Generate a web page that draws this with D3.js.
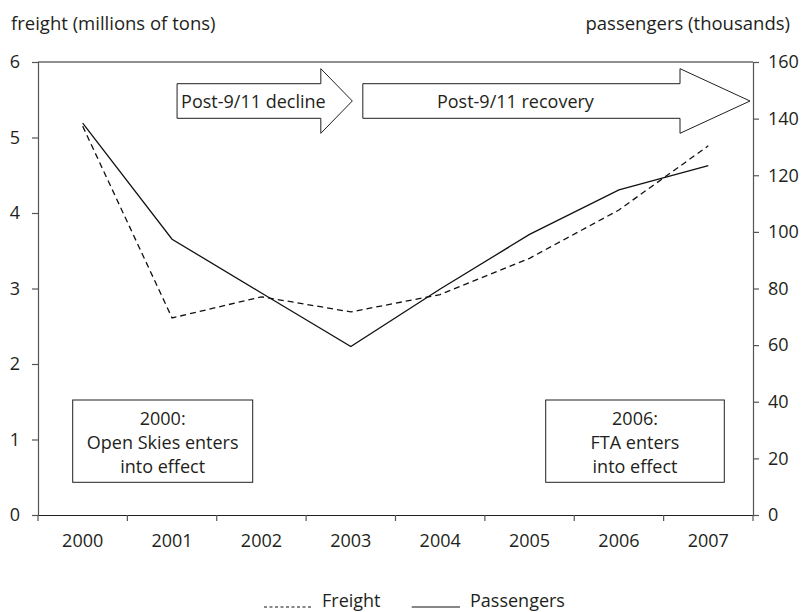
<!DOCTYPE html>
<html>
<head>
<meta charset="utf-8">
<script src="https://cdn.jsdelivr.net/npm/d3@7/dist/d3.min.js"></script>
<style>
  html, body { margin: 0; padding: 0; background: #fff; }
  svg { display: block; font-family: "Open Sans", "Noto Sans", sans-serif; }
  text { fill: #231f20; }
</style>
</head>
<body>
<svg id="chart" width="804" height="612"></svg>
<script>
// ---- data ----
const years = ["2000", "2001", "2002", "2003", "2004", "2005", "2006", "2007"];
const freight = [5.15, 2.61, 2.89, 2.69, 2.92, 3.40, 4.04, 4.89];          // millions of tons
const passengers = [138.4, 97.4, 78.4, 59.5, 79.8, 99.1, 114.8, 123.4];    // thousands
const freightTicks = [0, 1, 2, 3, 4, 5, 6];
const passengerTicks = [0, 20, 40, 60, 80, 100, 120, 140, 160];
const leftTitle = "freight (millions of tons)";
const rightTitle = "passengers (thousands)";
const arrowLabels = ["Post-9/11 decline", "Post-9/11 recovery"];
const boxTexts = [
  ["2000:", "Open Skies enters", "into effect"],
  ["2006:", "FTA enters", "into effect"]
];
const legendLabels = ["Freight", "Passengers"];

// ---- layout ----
const svg = d3.select("#chart");
const L = 38, R = 753, T = 62, B = 515;
const axisColor = "#555";
const ink = "#231f20";

const x = d3.scaleBand().domain(years).range([L, R]);
const yL = d3.scaleLinear().domain([0, 6]).range([B, T]);
const yR = d3.scaleLinear().domain([0, 160]).range([B, T]);
const cx = d => x(d) + x.bandwidth() / 2;

// titles
svg.append("text").attr("x", 11).attr("y", 30).attr("font-size", 18.5).text(leftTitle);
svg.append("text").attr("x", 790).attr("y", 30).attr("font-size", 18.5)
  .attr("text-anchor", "end").text(rightTitle);

// top frame line
svg.append("line").attr("x1", L).attr("x2", R).attr("y1", yL(6)).attr("y2", yL(6))
  .attr("stroke", ink).attr("stroke-width", 1);

// left axis
const gL = svg.append("g").attr("transform", `translate(${L},0)`)
  .call(d3.axisLeft(yL).tickValues(freightTicks).tickSize(6).tickPadding(12).tickFormat(d3.format("d")));
// right axis
const gR = svg.append("g").attr("transform", `translate(${R},0)`)
  .call(d3.axisRight(yR).tickValues(passengerTicks).tickSize(6).tickPadding(9).tickFormat(d3.format("d")));
// bottom axis
const gB = svg.append("g").attr("transform", `translate(0,${B})`)
  .call(d3.axisBottom(x).tickSize(0).tickPadding(18));

[gL, gR, gB].forEach(g => {
  g.select(".domain").attr("stroke", axisColor).attr("stroke-width", 1.2);
  g.selectAll(".tick line").attr("stroke", axisColor).attr("stroke-width", 1.2);
  g.selectAll("text").attr("font-size", 18).attr("fill", ink)
    .attr("font-family", '"Open Sans", "Noto Sans", sans-serif');
});
gB.select(".domain").attr("stroke", ink);
gB.selectAll("text").attr("dy", "0.75em");

// category boundary ticks on x axis
const boundaries = years.map(d => x(d)).concat([x(years[years.length - 1]) + x.bandwidth()]);
svg.append("g").selectAll("line").data(boundaries).join("line")
  .attr("x1", d => d).attr("x2", d => d).attr("y1", B).attr("y2", B + 6)
  .attr("stroke", axisColor).attr("stroke-width", 1.2);

// annotation arrows
function arrowPath(x0, x1, tip, yc, bh, hh) {
  return `M${x0},${yc - bh} L${x1},${yc - bh} L${x1},${yc - hh} L${tip},${yc} ` +
         `L${x1},${yc + hh} L${x1},${yc + bh} L${x0},${yc + bh} Z`;
}
const ya = 101;
const arrows = [
  { x0: cx("2001") + 5, x1: cx("2003") - 30, tip: cx("2003") + 1.5, label: arrowLabels[0], anchor: "start" },
  { x0: cx("2003") + 12, x1: R - 73, tip: R - 3, label: arrowLabels[1], anchor: "middle" }
];
const ga = svg.append("g");
arrows.forEach(a => {
  ga.append("path").attr("d", arrowPath(a.x0, a.x1, a.tip, ya, 17.3, 32.3))
    .attr("fill", "#fff").attr("stroke", ink).attr("stroke-width", 1);
  ga.append("text")
    .attr("x", a.anchor === "start" ? a.x0 + 4 : (a.x0 + a.x1) / 2 - 6)
    .attr("y", ya + 6.5).attr("font-size", 18).attr("text-anchor", a.anchor).text(a.label);
});

// annotation boxes
const boxes = [
  { x0: 72.7, x1: 252.7, lines: boxTexts[0] },
  { x0: 545.7, x1: 724.3, lines: boxTexts[1] }
];
const gbx = svg.append("g");
boxes.forEach(b => {
  gbx.append("rect").attr("x", b.x0).attr("y", 400).attr("width", b.x1 - b.x0).attr("height", 82.3)
    .attr("fill", "#fff").attr("stroke", ink).attr("stroke-width", 1);
  b.lines.forEach((t, i) => {
    gbx.append("text").attr("x", (b.x0 + b.x1) / 2).attr("y", 425 + i * 24.2)
      .attr("text-anchor", "middle").attr("font-size", 18).text(t);
  });
});

// data lines
const lineF = d3.line().x((d, i) => cx(years[i])).y(d => yL(d));
const lineP = d3.line().x((d, i) => cx(years[i])).y(d => yR(d));
svg.append("path").datum(freight).attr("d", lineF).attr("fill", "none")
  .attr("stroke", "#111").attr("stroke-width", 1.3).attr("stroke-dasharray", "6,4");
svg.append("path").datum(passengers).attr("d", lineP).attr("fill", "none")
  .attr("stroke", "#111").attr("stroke-width", 1.3);

// legend
const lg = svg.append("g");
const ly = 607;
lg.append("line").attr("x1", 264).attr("x2", 312).attr("y1", ly).attr("y2", ly)
  .attr("stroke", "#111").attr("stroke-width", 1.2).attr("stroke-dasharray", "3,2.5");
lg.append("text").attr("x", 322).attr("y", ly).attr("font-size", 18).text(legendLabels[0]);
lg.append("line").attr("x1", 411.7).attr("x2", 460).attr("y1", ly).attr("y2", ly)
  .attr("stroke", "#111").attr("stroke-width", 1.2);
lg.append("text").attr("x", 470).attr("y", ly).attr("font-size", 18).text(legendLabels[1]);
</script>
</body>
</html>
